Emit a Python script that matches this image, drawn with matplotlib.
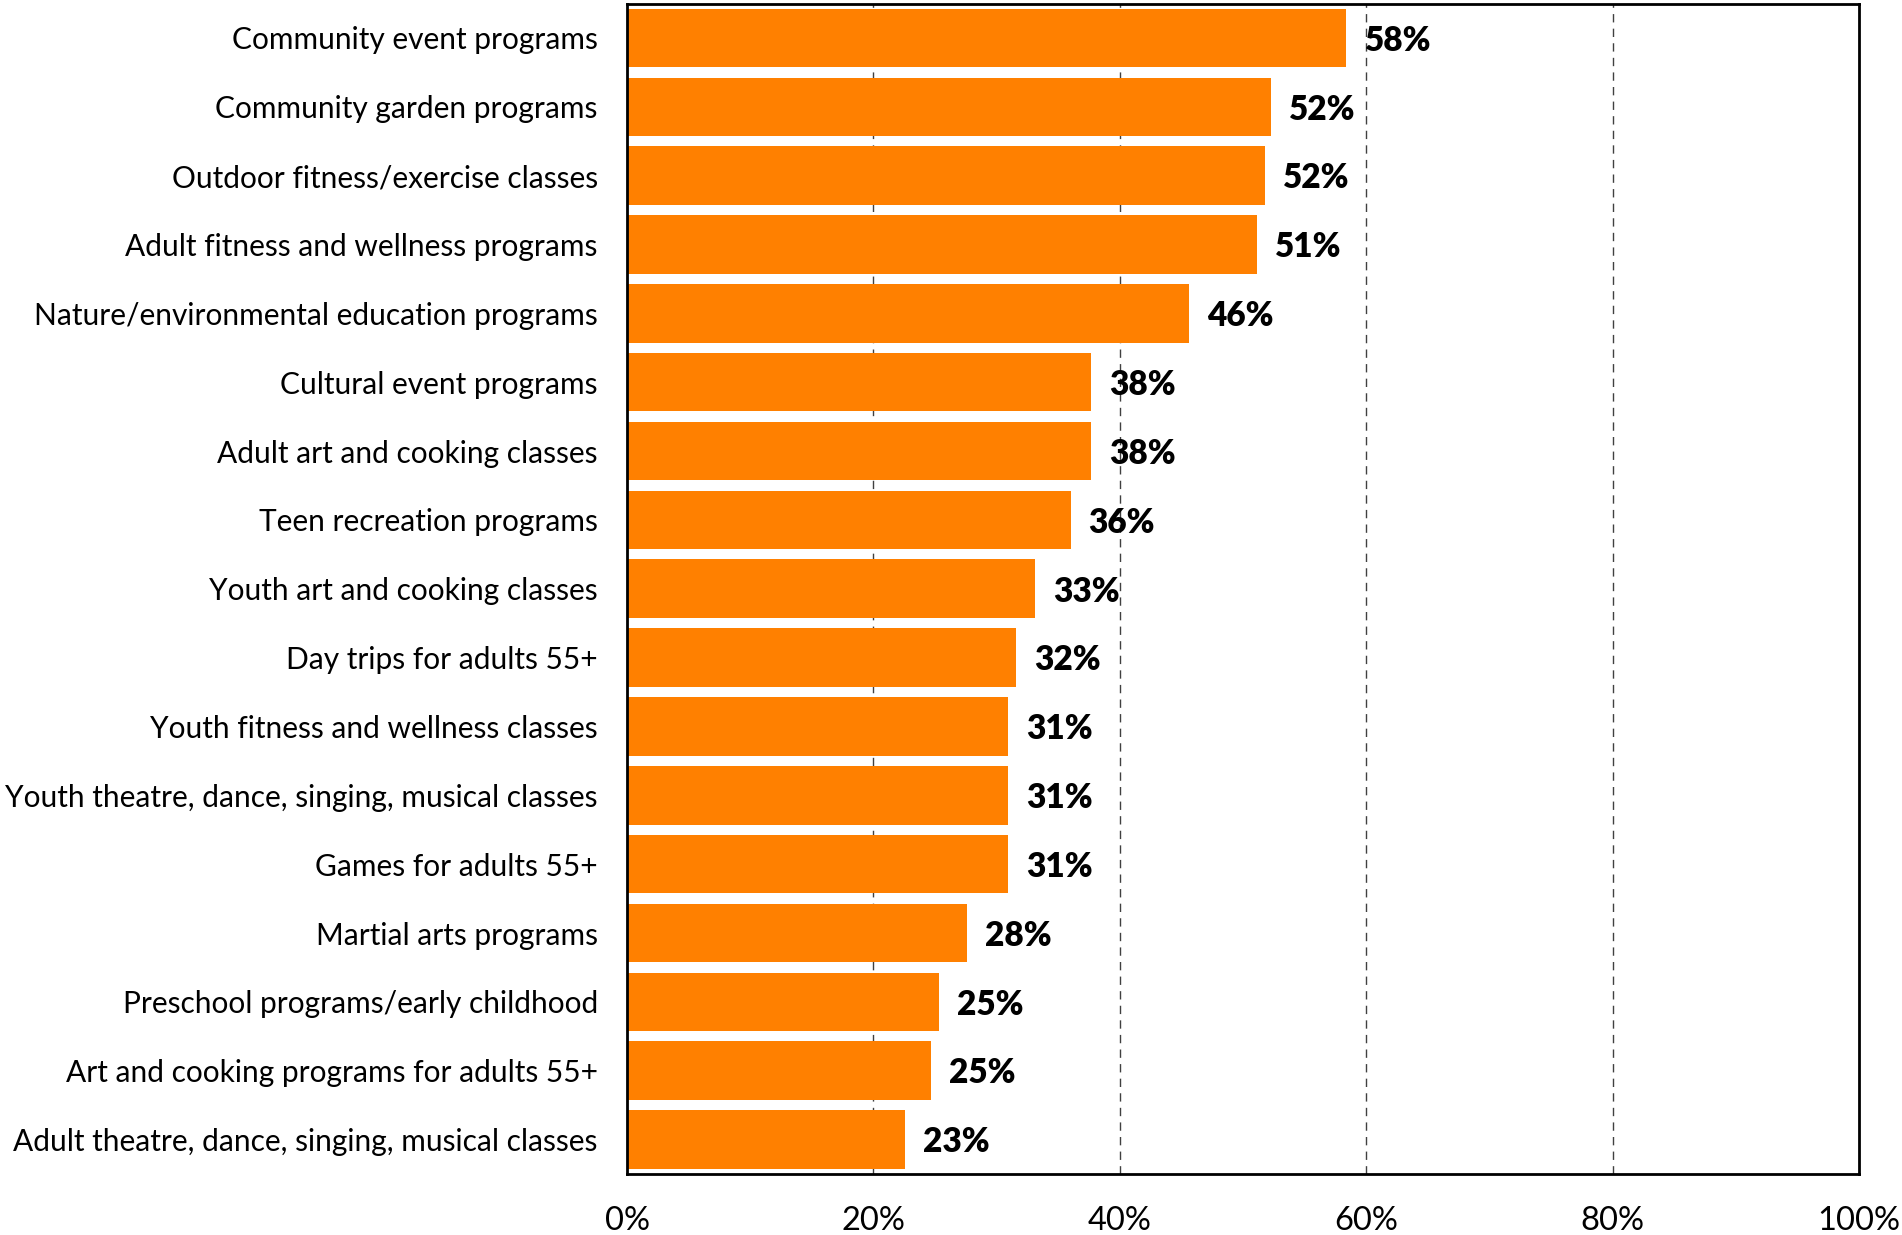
import matplotlib
matplotlib.use("Agg")
import matplotlib.pyplot as plt

# Share of respondents interested in each program type (%)
categories = [
    "Community event programs",
    "Community garden programs",
    "Outdoor fitness/exercise classes",
    "Adult fitness and wellness programs",
    "Nature/environmental education programs",
    "Cultural event programs",
    "Adult art and cooking classes",
    "Teen recreation programs",
    "Youth art and cooking classes",
    "Day trips for adults 55+",
    "Youth fitness and wellness classes",
    "Youth theatre, dance, singing, musical classes",
    "Games for adults 55+",
    "Martial arts programs",
    "Preschool programs/early childhood",
    "Art and cooking programs for adults 55+",
    "Adult theatre, dance, singing, musical classes",
]
shares = [58.4, 52.3, 51.8, 51.1, 45.6, 37.7, 37.7, 36.0, 33.1, 31.6,
          30.9, 30.9, 30.9, 27.6, 25.3, 24.7, 22.6]
tick_values = [0, 20, 40, 60, 80, 100]
tick_labels = ["0%", "20%", "40%", "60%", "80%", "100%"]

plt.rcParams["font.family"] = ["Lato", "DejaVu Sans"]
plt.rcParams["lines.scale_dashes"] = False

W, H = 1902, 1235
fig = plt.figure(figsize=(W / 100, H / 100), dpi=100)
left, right, top, bottom = 627, 1859, 3.5, 1174
ax = fig.add_axes([left / W, 1 - bottom / H, (right - left) / W, (bottom - top) / H])

y = list(range(len(categories)))
ax.barh(y, shares, height=0.85, color="#FF8000", zorder=2)

for yi, v in zip(y, shares):
    ax.annotate(f"{v:.0f}%", xy=(v, yi), xytext=(13, -2), textcoords="offset points",
                ha="left", va="center", fontsize=24, fontweight="heavy", color="black")

ax.set_xlim(0, 100)
ax.set_ylim(len(categories) - 0.5, -0.5)
ax.set_xticks(tick_values)
ax.set_xticklabels(tick_labels)
ax.set_yticks(y)
ax.set_yticklabels(categories)
ax.tick_params(axis="y", length=0, labelsize=21.5, colors="black", pad=21)
ax.tick_params(axis="x", length=0, labelsize=23.5, colors="black", pad=23)

for xv in tick_values[1:-1]:
    ax.axvline(xv, color="#404040", linewidth=1.0, dashes=(6, 4.5), zorder=1)

for s in ax.spines.values():
    s.set_linewidth(2)
    s.set_color("black")

fig.savefig("out.png", dpi=100, facecolor="white")
